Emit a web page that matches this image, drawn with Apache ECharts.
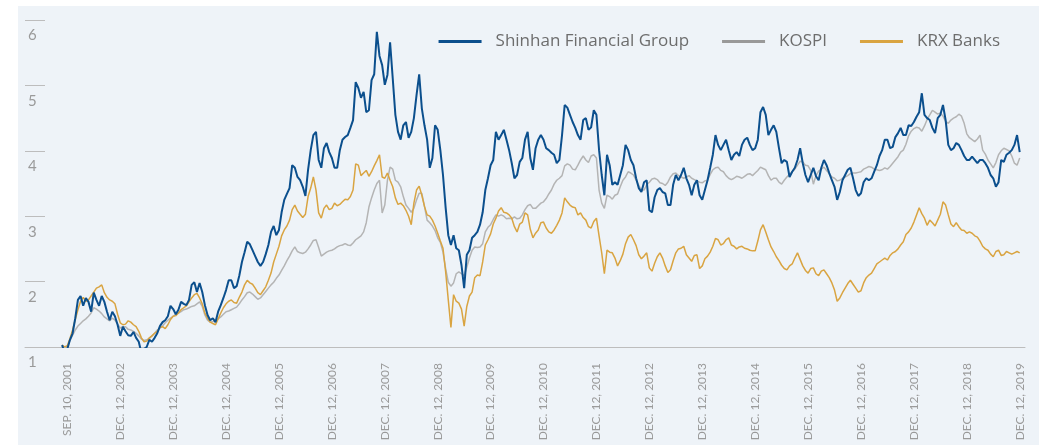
<!DOCTYPE html>
<html>
<head>
<meta charset="utf-8">
<script src="https://cdn.jsdelivr.net/npm/echarts@6.0.0/dist/echarts.min.js"></script>
<style>
    html, body { margin: 0; padding: 0; background: #fff; }
    #panel { position: absolute; left: 18px; top: 6px; width: 1021px; height: 439px; background: #eef3f8; }
    #chart { position: absolute; left: 0; top: 0; width: 1039px; height: 445px; }
</style>
</head>
<body>
<div id="panel"></div>
<div id="chart"></div>
<script>
    // x tick labels, one every 20 samples starting at sample 2
    const tickLabels = ['SEP. 10, 2001', 'DEC. 12, 2002', 'DEC. 12, 2003', 'DEC. 12, 2004', 'DEC. 12, 2005',
        'DEC. 12, 2006', 'DEC. 12, 2007', 'DEC. 12, 2008', 'DEC. 12, 2009', 'DEC. 12, 2010', 'DEC. 12, 2011',
        'DEC. 12, 2012', 'DEC. 12, 2013', 'DEC. 12, 2014', 'DEC. 12, 2015', 'DEC. 12, 2016', 'DEC. 12, 2017',
        'DEC. 12, 2018', 'DEC. 12, 2019'];

    const seriesNames = ['Shinhan Financial Group', 'KOSPI', 'KRX Banks'];

    const shinhan = [
        1.03, 0.92, 0.97, 1.11, 1.21, 1.44, 1.72, 1.78, 1.63, 1.75,
        1.69, 1.54, 1.83, 1.72, 1.63, 1.78, 1.69, 1.54, 1.41, 1.54,
        1.47, 1.34, 1.17, 1.31, 1.24, 1.18, 1.17, 1.23, 1.14, 1.08,
        0.91, 0.97, 1.00, 1.11, 1.08, 1.14, 1.21, 1.32, 1.38, 1.41,
        1.47, 1.63, 1.58, 1.50, 1.57, 1.69, 1.66, 1.64, 1.72, 1.95,
        1.99, 1.84, 1.98, 1.84, 1.64, 1.49, 1.41, 1.44, 1.38, 1.54,
        1.64, 1.75, 1.87, 2.02, 2.02, 1.90, 1.93, 2.09, 2.30, 2.45,
        2.61, 2.57, 2.48, 2.39, 2.30, 2.24, 2.30, 2.42, 2.56, 2.76,
        2.85, 2.71, 2.79, 3.06, 3.25, 3.34, 3.43, 3.78, 3.74, 3.60,
        3.55, 3.45, 3.31, 3.71, 4.01, 4.24, 4.29, 3.86, 3.74, 4.04,
        4.12, 3.98, 3.89, 3.74, 3.74, 4.01, 4.17, 4.21, 4.24, 4.35,
        4.47, 5.05, 4.96, 4.81, 4.90, 4.59, 4.62, 5.08, 5.17, 5.82,
        5.45, 5.31, 5.01, 5.16, 5.66, 5.11, 4.55, 4.29, 4.17, 4.39,
        4.44, 4.20, 4.29, 4.50, 4.85, 5.17, 4.65, 4.39, 4.17, 3.74,
        3.89, 4.39, 4.32, 4.01, 3.63, 3.13, 2.71, 2.56, 2.71, 2.51,
        2.48, 2.25, 1.90, 2.41, 2.48, 2.67, 2.71, 2.76, 2.87, 3.06,
        3.40, 3.58, 3.78, 3.86, 4.29, 4.17, 4.24, 4.32, 4.17, 4.01,
        3.81, 3.58, 3.63, 3.83, 3.89, 4.17, 4.29, 3.89, 3.71, 4.04,
        4.17, 4.24, 4.17, 4.04, 4.01, 3.97, 3.94, 3.81, 3.86, 4.24,
        4.70, 4.66, 4.55, 4.44, 4.35, 4.24, 4.17, 4.47, 4.50, 4.32,
        4.36, 4.62, 4.55, 4.01, 3.63, 3.32, 3.94, 3.78, 3.48, 3.52,
        3.48, 3.63, 3.78, 4.09, 4.01, 3.86, 3.78, 3.58, 3.43, 3.37,
        3.52, 3.55, 3.09, 3.06, 3.29, 3.40, 3.43, 3.37, 3.35, 3.17,
        3.17, 3.48, 3.63, 3.55, 3.63, 3.74, 3.58, 3.48, 3.32, 3.48,
        3.55, 3.32, 3.25, 3.40, 3.55, 3.74, 3.94, 4.24, 4.09, 4.01,
        4.09, 4.17, 4.01, 3.86, 3.94, 3.98, 3.92, 4.09, 4.17, 4.20,
        4.09, 4.01, 4.04, 4.17, 4.59, 4.67, 4.55, 4.24, 4.32, 4.39,
        4.29, 4.04, 3.81, 3.86, 3.83, 3.60, 3.68, 3.74, 3.86, 4.04,
        3.81, 3.63, 3.52, 3.63, 3.74, 3.61, 3.55, 3.74, 3.86, 3.78,
        3.66, 3.55, 3.45, 3.25, 3.37, 3.55, 3.63, 3.71, 3.74, 3.58,
        3.40, 3.31, 3.35, 3.52, 3.58, 3.55, 3.58, 3.68, 3.78, 3.92,
        4.01, 4.17, 4.17, 4.04, 4.06, 4.21, 4.27, 4.35, 4.24, 4.24,
        4.39, 4.38, 4.44, 4.52, 4.59, 4.88, 4.55, 4.50, 4.47, 4.35,
        4.27, 4.50, 4.55, 4.70, 4.47, 4.09, 4.01, 4.04, 4.12, 4.09,
        4.01, 3.92, 3.86, 3.86, 3.91, 3.86, 3.81, 3.86, 3.86, 3.81,
        3.74, 3.63, 3.58, 3.45, 3.52, 3.86, 3.83, 3.94, 3.97, 4.01,
        4.09, 4.24, 3.98];

    const kospi = [
        1.03, 1.00, 1.00, 1.10, 1.18, 1.26, 1.32, 1.36, 1.40, 1.43,
        1.47, 1.52, 1.60, 1.58, 1.55, 1.51, 1.46, 1.43, 1.40, 1.44,
        1.41, 1.35, 1.29, 1.31, 1.31, 1.27, 1.26, 1.24, 1.21, 1.17,
        1.12, 1.10, 1.11, 1.13, 1.17, 1.21, 1.26, 1.29, 1.32, 1.37,
        1.41, 1.44, 1.47, 1.50, 1.52, 1.54, 1.57, 1.58, 1.60, 1.62,
        1.63, 1.66, 1.69, 1.62, 1.49, 1.41, 1.38, 1.39, 1.40, 1.43,
        1.46, 1.50, 1.54, 1.55, 1.57, 1.59, 1.61, 1.66, 1.72, 1.77,
        1.83, 1.84, 1.81, 1.77, 1.73, 1.75, 1.80, 1.85, 1.90, 1.95,
        1.99, 2.05, 2.10, 2.17, 2.24, 2.32, 2.39, 2.47, 2.53, 2.46,
        2.44, 2.43, 2.45, 2.50, 2.56, 2.63, 2.64, 2.52, 2.39, 2.42,
        2.45, 2.47, 2.48, 2.50, 2.53, 2.55, 2.56, 2.58, 2.56, 2.55,
        2.59, 2.64, 2.67, 2.70, 2.76, 2.90, 3.14, 3.28, 3.40, 3.50,
        3.55, 3.05, 3.17, 3.55, 3.75, 3.72, 3.55, 3.52, 3.45, 3.30,
        3.17, 3.12, 3.06, 3.12, 3.25, 3.35, 3.35, 3.15, 2.94, 2.90,
        2.85, 2.78, 2.67, 2.60, 2.45, 2.20, 1.99, 1.93, 1.98, 2.12,
        2.15, 2.12, 2.09, 2.22, 2.36, 2.48, 2.53, 2.52, 2.53, 2.58,
        2.76, 2.83, 2.87, 2.95, 3.02, 3.00, 3.02, 3.00, 2.96, 2.97,
        2.96, 2.99, 2.96, 2.97, 3.02, 3.10, 3.16, 3.18, 3.12, 3.12,
        3.16, 3.20, 3.22, 3.27, 3.34, 3.40, 3.49, 3.55, 3.58, 3.62,
        3.77, 3.80, 3.78, 3.72, 3.71, 3.78, 3.86, 3.92, 3.86, 3.82,
        3.92, 3.94, 3.89, 3.40, 3.20, 3.12, 3.32, 3.30, 3.26, 3.32,
        3.34, 3.45, 3.55, 3.60, 3.68, 3.66, 3.63, 3.55, 3.47, 3.40,
        3.40, 3.48, 3.52, 3.57, 3.58, 3.56, 3.51, 3.50, 3.47, 3.52,
        3.60, 3.65, 3.66, 3.62, 3.60, 3.58, 3.60, 3.62, 3.58, 3.56,
        3.54, 3.52, 3.51, 3.54, 3.55, 3.64, 3.71, 3.74, 3.75, 3.70,
        3.68, 3.62, 3.58, 3.56, 3.58, 3.61, 3.60, 3.58, 3.61, 3.64,
        3.65, 3.62, 3.66, 3.70, 3.75, 3.73, 3.71, 3.62, 3.55, 3.58,
        3.58, 3.52, 3.49, 3.55, 3.60, 3.64, 3.68, 3.72, 3.78, 3.84,
        3.83, 3.78, 3.77, 3.70, 3.49, 3.62, 3.69, 3.72, 3.75, 3.70,
        3.65, 3.60, 3.58, 3.54, 3.55, 3.58, 3.60, 3.62, 3.65, 3.66,
        3.66, 3.67, 3.68, 3.72, 3.74, 3.76, 3.75, 3.72, 3.71, 3.70,
        3.71, 3.74, 3.72, 3.76, 3.81, 3.86, 3.91, 3.98, 4.01, 4.10,
        4.23, 4.30, 4.34, 4.36, 4.35, 4.30, 4.38, 4.48, 4.55, 4.62,
        4.59, 4.56, 4.58, 4.53, 4.45, 4.42, 4.47, 4.50, 4.52, 4.56,
        4.53, 4.42, 4.26, 4.20, 4.17, 4.14, 4.18, 4.24, 4.01, 3.95,
        3.86, 3.80, 3.74, 3.82, 3.94, 4.00, 4.04, 4.02, 4.00, 3.92,
        3.81, 3.78, 3.89];

    const krxBanks = [
        1.03, 1.00, 1.02, 1.13, 1.26, 1.42, 1.57, 1.70, 1.76, 1.70,
        1.72, 1.78, 1.84, 1.90, 1.92, 1.95, 1.83, 1.76, 1.72, 1.70,
        1.66, 1.50, 1.37, 1.34, 1.35, 1.40, 1.38, 1.34, 1.31, 1.24,
        1.14, 1.08, 1.09, 1.14, 1.17, 1.21, 1.24, 1.30, 1.31, 1.28,
        1.34, 1.42, 1.47, 1.48, 1.52, 1.57, 1.60, 1.63, 1.69, 1.75,
        1.80, 1.82, 1.75, 1.66, 1.52, 1.44, 1.38, 1.36, 1.34, 1.43,
        1.52, 1.60, 1.66, 1.70, 1.72, 1.68, 1.67, 1.76, 1.84, 1.95,
        2.02, 1.98, 1.96, 1.90, 1.83, 1.80, 1.86, 1.92, 2.02, 2.13,
        2.30, 2.42, 2.54, 2.70, 2.79, 2.85, 2.94, 3.10, 3.17, 3.08,
        3.03, 2.98, 3.03, 3.30, 3.43, 3.60, 3.40, 3.05, 2.97, 3.12,
        3.17, 3.10, 3.12, 3.20, 3.16, 3.18, 3.22, 3.26, 3.25, 3.30,
        3.40, 3.80, 3.78, 3.62, 3.66, 3.70, 3.61, 3.68, 3.77, 3.85,
        3.94, 3.60, 3.58, 3.66, 3.55, 3.45, 3.28, 3.18, 3.20, 3.16,
        3.09, 3.00, 2.87, 3.20, 3.40, 3.46, 3.32, 3.15, 3.02, 3.00,
        2.94, 2.85, 2.74, 2.62, 2.51, 2.15, 1.72, 1.30, 1.80, 1.70,
        1.67, 1.58, 1.32, 1.62, 1.78, 1.84, 2.06, 2.10, 2.09, 2.30,
        2.56, 2.64, 2.73, 2.88, 2.97, 3.08, 3.13, 3.06, 3.05, 3.02,
        2.97, 2.84, 2.76, 2.88, 2.91, 3.05, 3.02, 2.80, 2.67, 2.74,
        2.79, 2.90, 2.91, 2.82, 2.76, 2.74, 2.79, 2.86, 2.94, 3.05,
        3.28, 3.22, 3.17, 3.14, 3.13, 3.02, 3.05, 2.98, 2.94, 2.84,
        2.82, 2.92, 2.97, 2.70, 2.44, 2.12, 2.48, 2.45, 2.44, 2.36,
        2.24, 2.32, 2.42, 2.58, 2.68, 2.72, 2.64, 2.55, 2.41, 2.35,
        2.39, 2.44, 2.21, 2.16, 2.28, 2.38, 2.44, 2.36, 2.24, 2.14,
        2.18, 2.32, 2.44, 2.50, 2.51, 2.54, 2.41, 2.36, 2.31, 2.40,
        2.41, 2.20, 2.24, 2.35, 2.39, 2.45, 2.54, 2.66, 2.64, 2.56,
        2.58, 2.64, 2.67, 2.56, 2.54, 2.50, 2.53, 2.54, 2.51, 2.50,
        2.48, 2.47, 2.47, 2.62, 2.79, 2.87, 2.76, 2.64, 2.53, 2.46,
        2.38, 2.32, 2.25, 2.20, 2.18, 2.24, 2.27, 2.36, 2.44, 2.34,
        2.24, 2.17, 2.13, 2.20, 2.21, 2.12, 2.09, 2.16, 2.18, 2.12,
        2.06, 1.98, 1.87, 1.70, 1.75, 1.83, 1.90, 1.97, 2.02, 1.96,
        1.90, 1.84, 1.86, 1.98, 2.06, 2.10, 2.13, 2.20, 2.27, 2.30,
        2.33, 2.36, 2.33, 2.40, 2.44, 2.46, 2.50, 2.56, 2.61, 2.72,
        2.76, 2.82, 2.91, 3.02, 3.13, 3.04, 2.97, 2.86, 2.94, 2.90,
        2.85, 2.94, 3.03, 3.22, 3.17, 3.02, 2.88, 2.84, 2.90, 2.84,
        2.79, 2.78, 2.74, 2.76, 2.74, 2.70, 2.68, 2.62, 2.54, 2.50,
        2.48, 2.42, 2.38, 2.46, 2.48, 2.40, 2.41, 2.46, 2.44, 2.42,
        2.44, 2.46, 2.44];

    const myChart = echarts.init(document.getElementById('chart'));

    const toPairs = arr => arr.map((v, i) => [i, v]);
    const labelPos = tickLabels.map((t, k) => 2 + k * 20);

    const option = {
        animation: false,
        grid: {
            left: 25,
            right: 14,
            top: 20,
            bottom: 98
        },
        legend: {
            top: 28,
            right: 34,
            icon: 'rect',
            itemWidth: 43,
            itemHeight: 3,
            itemGap: 33,
            selectedMode: false,
            textStyle: {
                fontFamily: 'Open Sans',
                fontSize: 17,
                color: '#6d6d6d',
                padding: [0, 0, 0, 9]
            },
            data: [
                {name: seriesNames[0]},
                {name: seriesNames[1], itemStyle: {color: '#999999'}},
                {name: seriesNames[2]}
            ]
        },
        xAxis: {
            type: 'value',
            min: -14,
            max: 364,
            axisLine: {
                lineStyle: {color: '#bdbdbd', width: 1}
            },
            axisTick: {show: false},
            splitLine: {show: false},
            axisLabel: {
                customValues: labelPos,
                rotate: 90,
                margin: 16,
                color: '#9a9a9a',
                fontFamily: 'Lato',
                fontSize: 12,
                formatter: function (v) {
                    return tickLabels[Math.round((v - 2) / 20)];
                }
            }
        },
        yAxis: {
            type: 'value',
            min: 1,
            max: 6,
            interval: 1,
            axisLine: {show: false, onZero: false},
            axisTick: {
                show: true,
                inside: true,
                length: 20,
                lineStyle: {color: '#bdbdbd', width: 1}
            },
            splitLine: {show: false},
            axisLabel: {
                inside: true,
                margin: 3,
                verticalAlign: 'top',
                padding: [8, 0, 0, 0],
                color: '#9a9a9a',
                fontFamily: 'Lato',
                fontSize: 15
            }
        },
        series: [
            {
                name: seriesNames[1],
                type: 'line',
                showSymbol: false,
                color: '#b4b4b4',
                lineStyle: {width: 1.5},
                data: toPairs(kospi)
            },
            {
                name: seriesNames[2],
                type: 'line',
                showSymbol: false,
                color: '#d9a441',
                lineStyle: {width: 1.5},
                data: toPairs(krxBanks)
            },
            {
                name: seriesNames[0],
                type: 'line',
                showSymbol: false,
                color: '#0b4f8d',
                lineStyle: {width: 2},
                data: toPairs(shinhan)
            }
        ]
    };
    myChart.setOption(option);
</script>
</body>
</html>
